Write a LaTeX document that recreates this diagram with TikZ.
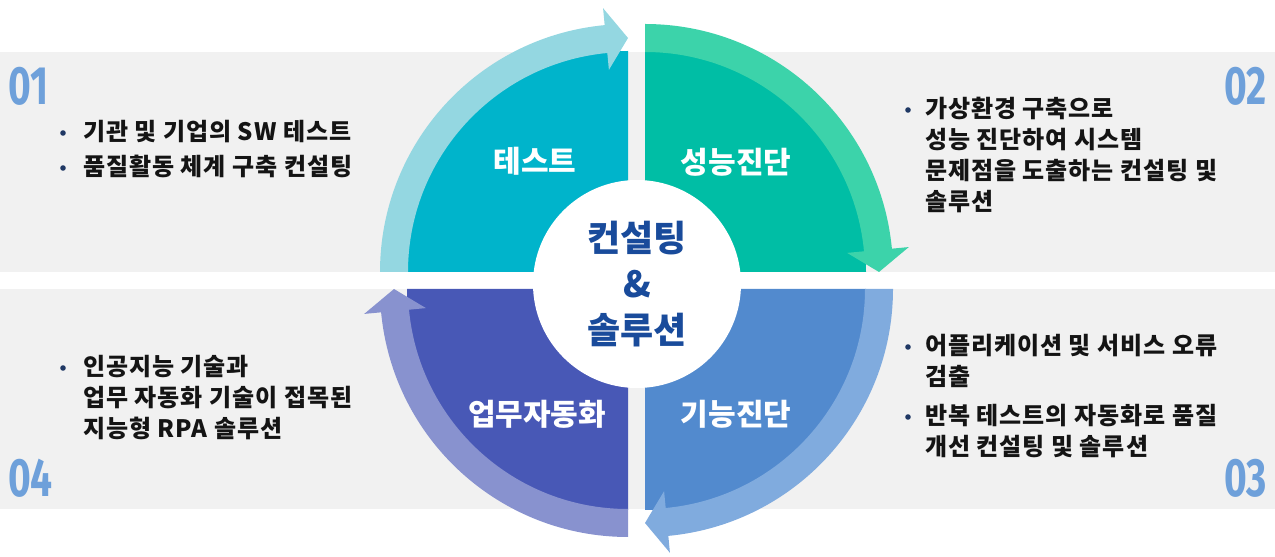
\documentclass[tikz,border=0pt]{standalone}
\usepackage{fontspec}
\setmainfont{Noto Sans CJK KR}
\newfontfamily\bodyfont[LetterSpace=4]{Noto Sans CJK KR}
\newfontfamily\digitfont[FakeStretch=0.72]{Fira Sans}
\usetikzlibrary{positioning}

\definecolor{tlDark}{RGB}{0,180,203}
\definecolor{tlLight}{RGB}{148,215,225}
\definecolor{trDark}{RGB}{0,190,165}
\definecolor{trLight}{RGB}{60,211,170}
\definecolor{brDark}{RGB}{82,138,206}
\definecolor{brLight}{RGB}{128,171,222}
\definecolor{blDark}{RGB}{72,88,182}
\definecolor{blLight}{RGB}{136,146,207}
\definecolor{numBlue}{RGB}{110,160,218}
\definecolor{coreBlue}{RGB}{25,75,155}
\definecolor{bandGray}{RGB}{241,241,241}
\definecolor{dotNavy}{RGB}{31,56,100}

\tikzset{
  qlabel/.style={text=white, font=\fontsize{30}{36}\selectfont\bfseries, inner sep=0},
  item/.style={anchor=base west, align=left, inner sep=0, text={black!92},
    font=\fontsize{24}{31}\selectfont\bodyfont\bfseries},
  dot/.style={circle, fill=dotNavy, inner sep=0, minimum size=5.6pt},
  num/.style={text=numBlue, inner sep=0, font=\fontsize{54}{54}\selectfont\digitfont\bfseries}
}

\begin{document}
\begin{tikzpicture}[x=1pt, y=1pt]
    \useasboundingbox (0,0) rectangle (1275,557);
    \fill[bandGray] (0,285) rectangle (1275,505);
    \fill[bandGray] (0,48) rectangle (1275,268);

    % four quadrants, each with its clockwise arrow
    \foreach \cx/\cy/\a/\dk/\lt in {628/285/180/tlDark/tlLight, 645/285/90/trDark/trLight,
                                    645/268/0/brDark/brLight, 628/268/270/blDark/blLight}
    {
      \fill[\dk, shift={(\cx,\cy)}] (0,0) -- (\a:221) arc[start angle=\a, end angle=\a-90, radius=221] -- cycle;
      \fill[\lt, shift={(\cx,\cy)}] (\a:220) arc[start angle=\a, end angle=\a-84.6, radius=220]
        -- ({\a-84.6}:203) -- ({\a-90}:234) -- ({\a-84.6}:265) -- ({\a-84.6}:248)
        arc[start angle=\a-84.6, end angle=\a, radius=248] -- cycle;
    }

    \node[qlabel] (test) at (535,396) {테스트};
    \node[qlabel] (perf) at (736,395) {성능진단};
    \node[qlabel] (func) at (736,143) {기능진단};
    \node[qlabel] (auto) at (537,143) {업무자동화};

    \node[circle, fill=white, minimum size=208pt, inner sep=0, align=center, text=coreBlue,
          font=\fontsize{36}{46}\selectfont\bfseries] (core) at (637,273) {컨설팅\\\&\\솔루션};

    % numbers
    \node[num, anchor=base west] (n1) at (8,452) {01};
    \node[num, anchor=base east] (n2) at (1267,452) {02};
    \node[num, anchor=base east] (n3) at (1267,60) {03};
    \node[num, anchor=base west] (n4) at (8,60) {04};

    % bullet texts (placed by their last baseline)
    \node[item] (i1a) at (83,416) {기관 및 기업의 SW 테스트};
    \node[item] (i1b) at (83,381) {품질활동 체계 구축 컨설팅};
    \node[item] (i2a) at (925,346) {가상환경 구축으로\\성능 진단하여 시스템\\문제점을 도출하는 컨설팅 및\\솔루션};
    \node[item] (i3a) at (925,171) {어플리케이션 및 서비스 오류\\검출};
    \node[item] (i3b) at (925,101) {반복 테스트의 자동화로 품질\\개선 컨설팅 및 솔루션};
    \node[item] (i4a) at (83,119) {인공지능 기술과\\업무 자동화 기술이 접목된\\지능형 RPA 솔루션};

    \node[dot] (d1a) at (63,424) {};
    \node[dot] (d1b) at (63,389) {};
    \node[dot] (d2a) at (908,447) {};
    \node[dot] (d3a) at (908,210) {};
    \node[dot] (d3b) at (908,140) {};
    \node[dot] (d4a) at (63,189) {};
  \end{tikzpicture}
\end{document}
